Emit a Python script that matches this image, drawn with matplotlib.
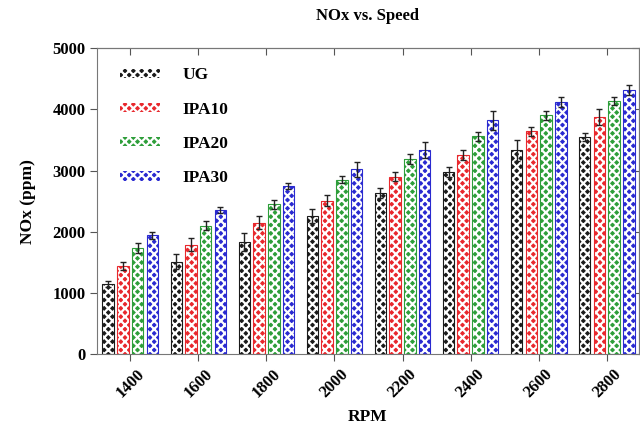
import numpy as np
import matplotlib.pyplot as plt
from matplotlib.patches import Patch

rpm = ["1400", "1600", "1800", "2000", "2200", "2400", "2600", "2800"]
series = ["UG", "IPA10", "IPA20", "IPA30"]
colors = ["#1a1a1a", "#e8282d", "#2e9e3a", "#2a2ad0"]

ug = [1150, 1510, 1830, 2260, 2630, 2980, 3330, 3550]
ipa10 = [1440, 1790, 2150, 2510, 2900, 3260, 3640, 3870]
ipa20 = [1730, 2100, 2450, 2850, 3190, 3560, 3900, 4140]
ipa30 = [1940, 2350, 2750, 3020, 3340, 3820, 4120, 4320]

ug_err = [50, 120, 150, 120, 80, 80, 170, 60]
ipa10_err = [60, 100, 100, 90, 70, 80, 70, 130]
ipa20_err = [80, 70, 70, 60, 80, 70, 80, 70]
ipa30_err = [60, 50, 50, 120, 130, 150, 80, 80]

values = [ug, ipa10, ipa20, ipa30]
errors = [ug_err, ipa10_err, ipa20_err, ipa30_err]

plt.rcParams['font.family'] = 'Liberation Serif'
plt.rcParams['font.weight'] = 'bold'
plt.rcParams['hatch.linewidth'] = 1.6

fig = plt.figure(figsize=(6.4, 4.34), dpi=100)
ax = fig.add_axes([0.152, 0.184, 0.846, 0.705])

x = np.arange(len(rpm))
pitch = 0.216
width = 0.17
for i, (name, vals, errs, c) in enumerate(zip(series, values, errors, colors)):
    pos = x + (i - 1.5) * pitch
    ax.bar(pos, vals, width, color=c, edgecolor="white", hatch="xxxx", linewidth=0)
    ax.bar(pos, vals, width, fill=False, edgecolor=c, linewidth=0.8)
    ax.errorbar(pos, vals, yerr=errs, fmt="none", ecolor="#222222",
                elinewidth=1, capsize=2.5, capthick=1)

handles = [Patch(facecolor=c, edgecolor="white", hatch="xxxx", linewidth=0) for c in colors]
ax.legend(handles, series, loc="upper left", frameon=False, fontsize=12.5,
          handlelength=2.3, handleheight=0.45, labelspacing=1.05,
          handletextpad=1.25, borderaxespad=0.0, bbox_to_anchor=(0.03, 0.96))

ax.set_xlim(-0.485, 7.47)
ax.set_ylim(0, 5000)
ax.set_yticks([0, 1000, 2000, 3000, 4000, 5000])
ax.set_xticks(x)
ax.set_xticklabels(rpm, rotation=45, fontsize=12)
ax.tick_params(axis="y", labelsize=12)
ax.tick_params(axis="both", color="#555555", length=5)

sec_x = ax.secondary_xaxis("top")
sec_x.set_xticks(x)
sec_x.set_xticklabels([])
sec_x.tick_params(direction="in", color="#555555", length=5)
sec_y = ax.secondary_yaxis("right")
sec_y.set_yticks([0, 1000, 2000, 3000, 4000, 5000])
sec_y.set_yticklabels([])
sec_y.tick_params(direction="in", color="#555555", length=5)

for s in ax.spines.values():
    s.set_color("#777777")
for s in list(sec_x.spines.values()) + list(sec_y.spines.values()):
    s.set_color("#777777")

ax.set_xlabel("RPM", fontsize=12.5, fontweight="bold", labelpad=6)
ax.set_ylabel("NOx (ppm)", fontsize=12.5, fontweight="bold", labelpad=12)
ax.set_title("NOx vs. Speed", fontsize=12, fontweight="bold", pad=20)

fig.savefig("out.png", dpi=100)
